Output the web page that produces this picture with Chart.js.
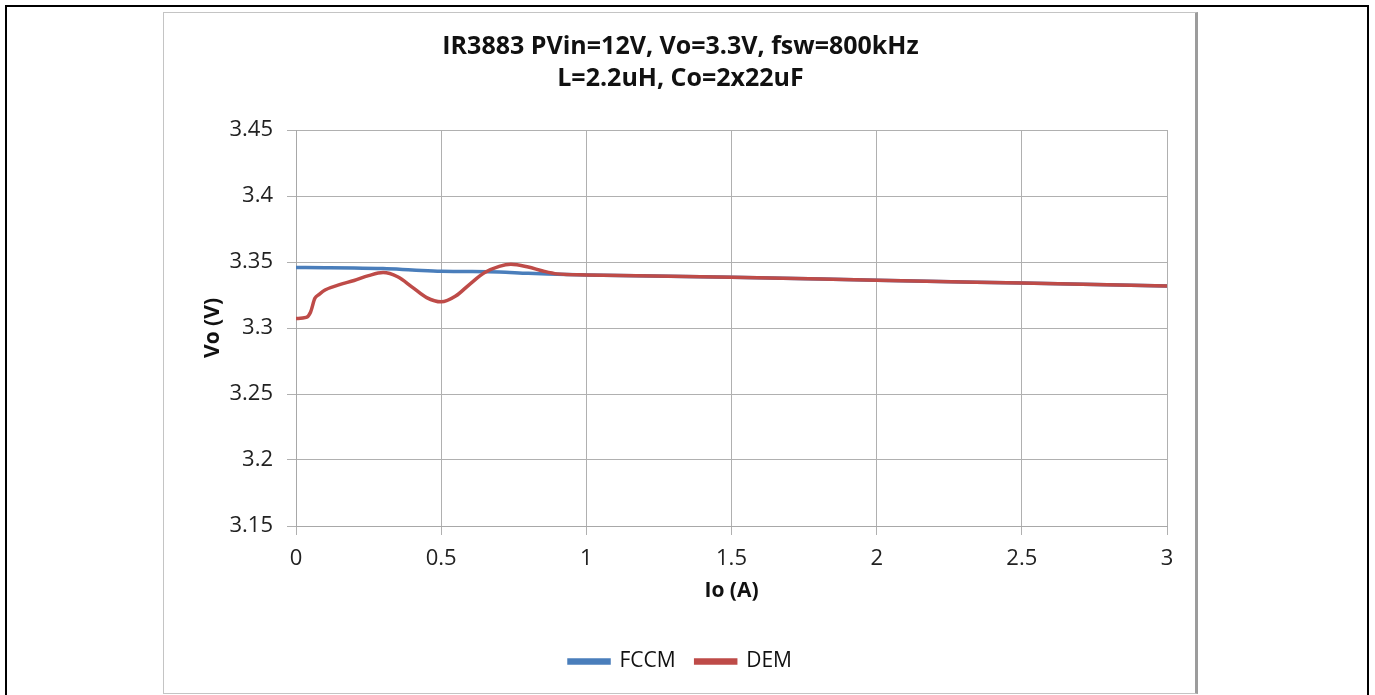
<!DOCTYPE html>
<html>
<head>
<meta charset="utf-8">
<script src="https://cdn.jsdelivr.net/npm/chart.js@4.4.0/dist/chart.umd.min.js"></script>
<style>
  html, body { margin: 0; padding: 0; background: #ffffff; width: 1375px; height: 695px; overflow: hidden; }
  #outer { position: absolute; left: 5px; top: 5px; width: 1364px; height: 710px; border: 2px solid #000; box-sizing: border-box; }
  #frame { position: absolute; left: 163px; top: 12px; width: 1035px; height: 682px; box-sizing: border-box;
           border: 1px solid #c4c4c4; border-right: 3px solid #9c9c9c; background: #fff; }
  #wrap { position: absolute; left: 165px; top: 14px; width: 1031px; height: 678px; }
</style>
</head>
<body>
<div id="outer"></div>
<div id="frame"></div>
<div id="wrap"><canvas id="c"></canvas></div>
<script>
// ---- data ----
const titleLines = ['IR3883 PVin=12V, Vo=3.3V, fsw=800kHz', 'L=2.2uH, Co=2x22uF'];
const xTitle = 'Io (A)';
const yTitle = 'Vo (V)';
const xTicks = [0, 0.5, 1, 1.5, 2, 2.5, 3];
const yTicks = [3.15, 3.2, 3.25, 3.3, 3.35, 3.4, 3.45];

const fccmIo = [0, 0.1, 0.2, 0.3, 0.4, 0.5, 0.6, 0.7, 0.8, 0.9, 1.0, 1.5, 2.0, 2.5, 3.0];
const fccmVo = [3.3458, 3.3457, 3.3455, 3.3450, 3.3440, 3.3430, 3.3428, 3.3424, 3.3414, 3.3408, 3.3402, 3.3385, 3.3362, 3.3340, 3.3318];

const demIo = [0, 0.035, 0.05, 0.065, 0.08, 0.1, 0.15, 0.2, 0.25, 0.3, 0.35, 0.4, 0.45, 0.5, 0.55, 0.6, 0.65, 0.7, 0.74, 0.8, 0.85, 0.9, 1.0, 1.5, 2.0, 2.5, 3.0];
const demVo = [3.3072, 3.3080, 3.3120, 3.3225, 3.3255, 3.3288, 3.3328, 3.3360, 3.3397, 3.3420, 3.3388, 3.3310, 3.3230, 3.3198, 3.3242, 3.3335, 3.3420, 3.3467, 3.3483, 3.3462, 3.3432, 3.3410, 3.3402, 3.3385, 3.3362, 3.3340, 3.3318];

const seriesNames = ['FCCM', 'DEM'];
const seriesColors = ['#4a7ebb', '#be4b48'];

// ---- chart ----
const FONT = "'Open Sans', 'Liberation Sans', sans-serif";
const pts = (xs, ys) => xs.map((x, i) => ({ x: x, y: ys[i] }));
const fmt = v => String(Number(v.toFixed(2)));
const gridColor = '#b0b0b0';

new Chart(document.getElementById('c'), {
  type: 'line',
  data: {
    datasets: [
      { label: seriesNames[0], data: pts(fccmIo, fccmVo), borderColor: seriesColors[0], backgroundColor: seriesColors[0],
        borderWidth: 3.5, pointRadius: 0, cubicInterpolationMode: 'monotone', fill: false, yAxisID: 'y', order: 2 },
      { label: seriesNames[1], data: pts(demIo, demVo), borderColor: seriesColors[1], backgroundColor: seriesColors[1],
        borderWidth: 3.5, pointRadius: 0, cubicInterpolationMode: 'monotone', fill: false, yAxisID: 'y', order: 1 }
    ]
  },
  options: {
    responsive: true,
    maintainAspectRatio: false,
    animation: false,
    devicePixelRatio: 1,
    layout: { padding: { left: 0, right: 0, top: 0, bottom: 10 } },
    plugins: {
      title: {
        display: true, text: titleLines, color: '#111',
        font: { family: FONT, size: 25, weight: 'bold', lineHeight: '32px' },
        padding: { top: 17, bottom: 35 }
      },
      legend: {
        display: true, position: 'bottom',
        labels: {
          color: '#111', font: { family: FONT, size: 21 },
          boxWidth: 40, boxHeight: 3, padding: 20,
          sort: (a, b) => a.datasetIndex - b.datasetIndex
        }
      },
      tooltip: { enabled: false }
    },
    scales: {
      x: {
        type: 'linear', min: xTicks[0], max: xTicks[xTicks.length - 1],
        afterBuildTicks: s => { s.ticks = xTicks.map(v => ({ value: v })); },
        afterFit: s => { s.height = 105; },
        ticks: { callback: v => fmt(v), color: '#222', font: { family: FONT, size: 22 }, padding: 11, maxRotation: 0 },
        grid: { color: gridColor, lineWidth: 1, tickLength: 9, tickColor: gridColor },
        border: { color: '#a8a8a8', width: 1 },
        title: { display: true, text: xTitle, color: '#111', font: { family: FONT, size: 21, weight: 'bold' }, padding: { top: 0, bottom: 27 } }
      },
      y: {
        type: 'linear', position: 'left', min: yTicks[0], max: yTicks[yTicks.length - 1],
        afterBuildTicks: s => { s.ticks = yTicks.map(v => ({ value: v })); },
        afterFit: s => { s.width = 131; },
        ticks: { callback: v => fmt(v), color: '#222', font: { family: FONT, size: 22 }, padding: 14 },
        grid: { color: gridColor, lineWidth: 1, tickLength: 9, tickColor: gridColor },
        border: { color: '#a8a8a8', width: 1 },
        title: { display: true, text: yTitle, color: '#111', font: { family: FONT, size: 21, weight: 'bold' }, padding: { top: 35, bottom: 0 } }
      },
      yRight: {
        type: 'linear', position: 'right', display: true, min: 0, max: 1,
        afterFit: s => { s.width = 29; },
        ticks: { display: false },
        grid: { display: false, drawTicks: false },
        border: { display: false }
      }
    }
  }
});
</script>
</body>
</html>
